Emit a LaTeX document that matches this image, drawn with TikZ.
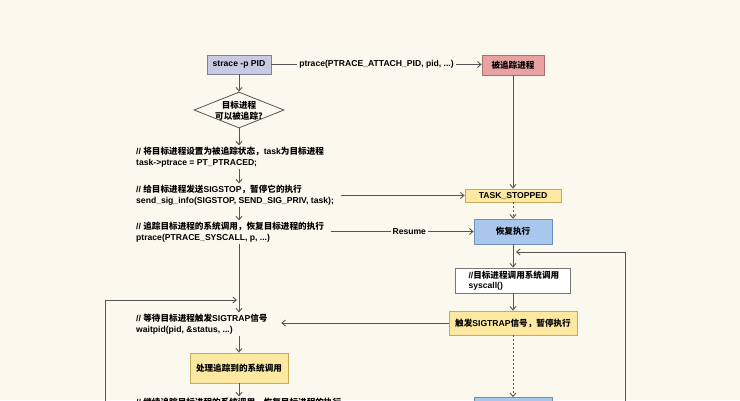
\documentclass[tikz,border=0pt]{standalone}
\usepackage{fontspec}
\setmainfont{Liberation Sans}
\newfontfamily\cjk{Noto Sans CJK SC}
\usetikzlibrary{arrows.meta,shapes.geometric}
\definecolor{bg}{HTML}{FBF8EE}
\definecolor{ln}{HTML}{555555}
\definecolor{lav}{HTML}{C7CAE2}
\definecolor{lavb}{HTML}{7E8098}
\definecolor{pink}{HTML}{E8A2A2}
\definecolor{pinkb}{HTML}{A87070}
\definecolor{yel}{HTML}{FCE8A0}
\definecolor{yelb}{HTML}{C4AC5C}
\definecolor{blu}{HTML}{A9C7EC}
\definecolor{blub}{HTML}{7090B8}
\newcommand\zh[1]{{\cjk #1}}
\begin{document}
\begin{tikzpicture}[x=1pt,y=-1pt,
  font=\fontsize{8.6}{10.5}\selectfont\bfseries,
  tip/.style={-{Straight Barb[length=3.5pt,width=6pt]}},
  conn/.style={draw=ln, line width=0.9pt, tip},
  box/.style={draw, line width=0.8pt, inner sep=0pt, align=center},
  txt/.style={inner sep=1.5pt, align=left, anchor=west},
  lbl/.style={fill=bg, inner sep=2pt, text=black}]
\fill[bg] (0,0) rectangle (740,400);
\useasboundingbox (0,0) rectangle (740,400);
\clip (0,0) rectangle (740,400);

% nodes
\node[box, fill=lav, draw=lavb, minimum width=64pt, minimum height=19pt] (strace) at (239,64.5) {strace -p PID};
\node[box, fill=pink, draw=pinkb, minimum width=62pt, minimum height=20pt] (target) at (513,65) {\zh{被追踪进程}};
\node[draw=ln, line width=0.8pt, diamond, inner sep=0pt, minimum width=90pt, minimum height=36pt, fill=bg] (dia) at (239,110) {};
\node[align=center, inner sep=0pt] (diat) at (239,110.5) {\zh{目标进程}\\\zh{可以被追踪?}};

\node[txt] (b1) at (134.5,157) {// \zh{将目标进程设置为被追踪状态，}task\zh{为目标进程}\\task->ptrace = PT\_PTRACED;};
\node[txt] (b2) at (134.5,195) {// \zh{给目标进程发送}SIGSTOP\zh{，暂停它的执行}\\send\_sig\_info(SIGSTOP, SEND\_SIG\_PRIV, task);};
\node[txt] (b3) at (134.5,232) {// \zh{追踪目标进程的系统调用，恢复目标进程的执行}\\ptrace(PTRACE\_SYSCALL, p, ...)};
\node[txt] (wait) at (134.5,324) {// \zh{等待目标进程触发}SIGTRAP\zh{信号}\\waitpid(pid, \&status, ...)};
\node[box, fill=yel, draw=yelb, minimum width=98pt, minimum height=30pt] (handle) at (239,368) {\zh{处理追踪到的系统调用}};
\node[txt] (b5) at (134.5,408) {// \zh{继续追踪目标进程的系统调用，恢复目标进程的执行}\\ptrace(PTRACE\_SYSCALL, p, ...)};

\node[box, fill=yel, draw=yelb, minimum width=96pt, minimum height=13pt, text depth=0.3pt] (stopped) at (513,195.5) {TASK\_STOPPED};
\node[box, fill=blu, draw=blub, minimum width=78pt, minimum height=25pt] (resume) at (513,231.5) {\zh{恢复执行}};
\node[box, fill=white, draw=ln!80, minimum width=115pt, minimum height=25pt, align=left, anchor=west] (sys) at (455,280.5) {\hspace{2pt}//\zh{目标进程调用系统调用}\\\hspace{2pt}syscall()};
\node[box, fill=yel, draw=yelb, minimum width=128pt, minimum height=24pt] (trig) at (513,323) {\zh{触发}SIGTRAP\zh{信号，暂停执行}};
\node[box, fill=blu, draw=blub, minimum width=78pt, minimum height=25pt] (resume2) at (513,410) {\zh{恢复执行}};

\coordinate (Lb) at (105,405);
\coordinate (Le) at (237,300);
\coordinate (Rb) at (625,405);
\coordinate (Re) at (516,252);

% connectors
\draw[conn] (strace.east) -- node[lbl, pos=0.5] {ptrace(PTRACE\_ATTACH\_PID, pid, ...)} (strace.east -| target.west);
\draw[conn] (strace.south) -- (dia.north);
\draw[conn] (dia.south) -- (dia.south |- b1.north);
\draw[conn] (b1.south -| strace) -- (b2.north -| strace);
\draw[conn] (b2.south -| strace) -- (b3.north -| strace);
\draw[conn] ([xshift=5pt]stopped.west -| b2.east) -- (stopped.west);
\draw[conn] ([xshift=5pt]resume.west -| b3.east) -- node[lbl, pos=0.55] {Resume} (resume.west);
\draw[conn] (target.south) -- (stopped.north);
\draw[conn, dash pattern=on 2pt off 2pt] (stopped.south) -- (resume.north);
\draw[conn] (resume.south) -- (resume.south |- sys.north);
\draw[conn] (sys.south -| trig) -- (trig.north);
\draw[conn] (trig.west) -- ([xshift=12pt]trig.west -| wait.east);
\draw[conn] (b3.south -| strace) -- (wait.north -| strace);
\draw[conn] (wait.south -| strace) -- (handle.north);
\draw[conn] (handle.south) -- (handle.south |- b5.north);
\draw[conn, dash pattern=on 2pt off 2pt] (trig.south) -- (resume2.north);
\draw[conn] (Lb) |- (Le);
\draw[conn] (Rb) |- (Re);
\end{tikzpicture}
\end{document}
